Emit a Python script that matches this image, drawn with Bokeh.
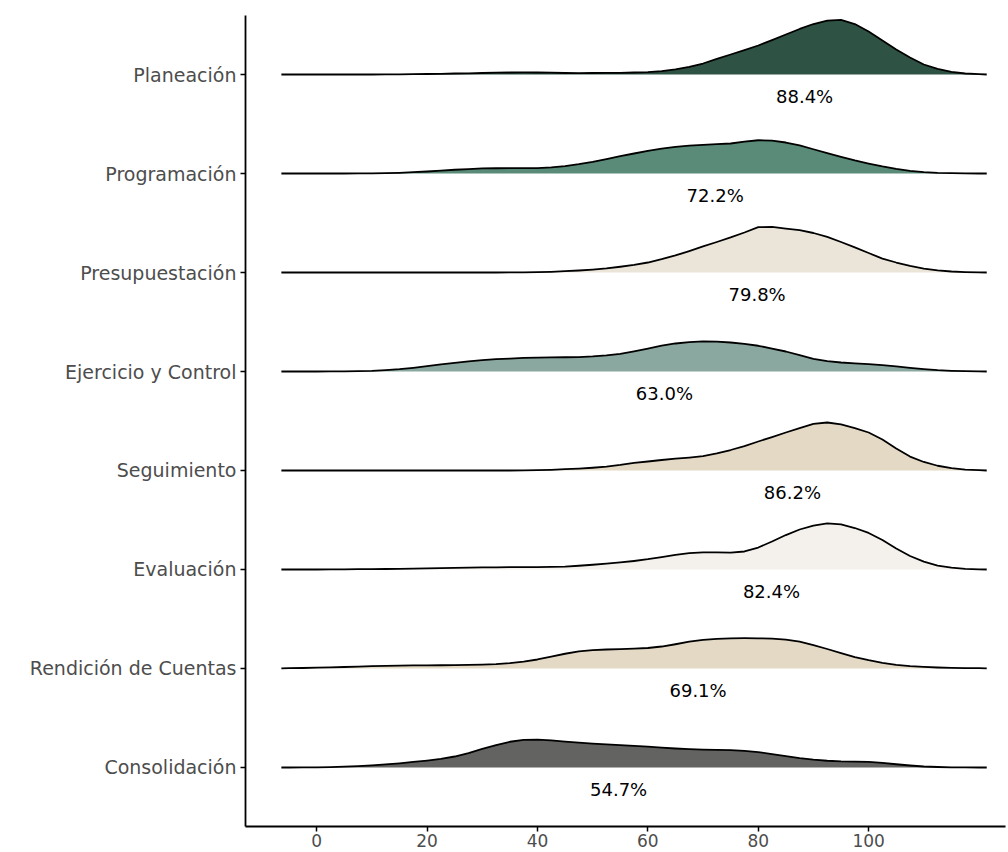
from bokeh.plotting import figure
from bokeh.models import ColumnDataSource, FixedTicker, Range1d
from bokeh.core.properties import value
from bokeh.embed import file_html
from bokeh.resources import INLINE

# ---- data (top to bottom) ----
categories = ["Planeación", "Programación", "Presupuestación", "Ejercicio y Control",
              "Seguimiento", "Evaluación", "Rendición de Cuentas", "Consolidación"]
percent = [88.4, 72.2, 79.8, 63.0, 86.2, 82.4, 69.1, 54.7]
colors = ["#2e5244", "#5a8b78", "#ebe4d9", "#8aa7a0", "#e3d9c5", "#f4f1ec", "#e3d9c5", "#636361"]

# density curves (height in units of row spacing)
x_grid = [-6.4, -5, -2.5, 0, 2.5, 5, 7.5, 10, 12.5, 15, 17.5, 20, 22.5, 25, 27.5, 30, 32.5,
          35, 37.5, 40, 42.5, 45, 47.5, 50, 52.5, 55, 57.5, 60, 62.5, 65, 67.5, 70, 72.5,
          75, 77.5, 80, 82.5, 85, 87.5, 90, 92.5, 95, 97.5, 100, 102.5, 105, 107.5, 110,
          112.5, 115, 117.5, 120, 121.4]
d_planeacion = [0, 0, 0, 0, 0, 0, 0, 0, 0.001, 0.002, 0.003, 0.005, 0.007, 0.010, 0.012,
                0.015, 0.018, 0.020, 0.021, 0.020, 0.018, 0.015, 0.014, 0.015, 0.016, 0.017,
                0.020, 0.025, 0.035, 0.051, 0.076, 0.111, 0.157, 0.202, 0.247, 0.293, 0.348,
                0.404, 0.460, 0.510, 0.545, 0.551, 0.510, 0.434, 0.343, 0.253, 0.172, 0.101,
                0.056, 0.027, 0.010, 0.003, 0]
d_programacion = [0, 0, 0, 0, 0, 0, 0.001, 0.002, 0.004, 0.007, 0.013, 0.020, 0.029, 0.038,
                  0.045, 0.051, 0.053, 0.054, 0.054, 0.054, 0.061, 0.074, 0.094, 0.118, 0.146,
                  0.175, 0.202, 0.229, 0.252, 0.270, 0.281, 0.290, 0.296, 0.303, 0.323, 0.336,
                  0.333, 0.313, 0.283, 0.245, 0.207, 0.169, 0.133, 0.101, 0.072, 0.047, 0.027,
                  0.013, 0.006, 0.003, 0.001, 0, 0]
d_presupuestacion = [0, 0, 0, 0, 0, 0, 0, 0, 0, 0, 0, 0, 0, 0, 0, 0, 0,
                     0.001, 0.002, 0.003, 0.007, 0.013, 0.020, 0.030, 0.042, 0.058, 0.077,
                     0.101, 0.134, 0.172, 0.217, 0.263, 0.308, 0.354, 0.404, 0.458, 0.460,
                     0.444, 0.427, 0.399, 0.359, 0.308, 0.253, 0.197, 0.141, 0.101, 0.066,
                     0.040, 0.022, 0.010, 0.004, 0.001, 0]
d_ejercicio = [0, 0, 0, 0, 0.001, 0.002, 0.004, 0.007, 0.014, 0.023, 0.037, 0.054, 0.071,
               0.088, 0.102, 0.114, 0.124, 0.131, 0.137, 0.141, 0.143, 0.144, 0.146, 0.152,
               0.162, 0.179, 0.204, 0.232, 0.261, 0.283, 0.297, 0.305, 0.302, 0.293, 0.279,
               0.260, 0.232, 0.202, 0.165, 0.128, 0.105, 0.091, 0.082, 0.074, 0.064, 0.051,
               0.036, 0.023, 0.013, 0.007, 0.003, 0.001, 0]
d_seguimiento = [0, 0, 0, 0, 0, 0, 0, 0, 0, 0, 0, 0, 0, 0, 0, 0, 0, 0,
                 0.001, 0.003, 0.007, 0.013, 0.019, 0.028, 0.040, 0.056, 0.076, 0.091, 0.106,
                 0.119, 0.131, 0.146, 0.172, 0.207, 0.247, 0.293, 0.338, 0.384, 0.429, 0.470,
                 0.485, 0.465, 0.429, 0.384, 0.313, 0.222, 0.141, 0.086, 0.048, 0.023, 0.009,
                 0.003, 0]
d_evaluacion = [0, 0, 0, 0, 0.001, 0.002, 0.003, 0.004, 0.005, 0.007, 0.009, 0.011, 0.014,
                0.016, 0.019, 0.021, 0.022, 0.023, 0.023, 0.024, 0.026, 0.030, 0.038, 0.048,
                0.059, 0.071, 0.086, 0.104, 0.126, 0.148, 0.165, 0.172, 0.172, 0.170, 0.182,
                0.222, 0.283, 0.348, 0.404, 0.444, 0.465, 0.455, 0.419, 0.369, 0.298, 0.212,
                0.136, 0.079, 0.040, 0.018, 0.007, 0.002, 0]
d_rendicion = [0.002, 0.003, 0.005, 0.008, 0.011, 0.015, 0.019, 0.023, 0.027, 0.030, 0.031,
               0.032, 0.033, 0.034, 0.036, 0.039, 0.044, 0.054, 0.069, 0.091, 0.121, 0.149,
               0.172, 0.185, 0.192, 0.196, 0.200, 0.207, 0.222, 0.245, 0.271, 0.289, 0.299,
               0.304, 0.306, 0.305, 0.301, 0.291, 0.271, 0.237, 0.197, 0.155, 0.116, 0.084,
               0.057, 0.037, 0.024, 0.016, 0.010, 0.007, 0.004, 0.003, 0.002]
d_consolidacion = [0, 0, 0.001, 0.002, 0.004, 0.008, 0.014, 0.022, 0.031, 0.042, 0.056, 0.070,
                   0.087, 0.111, 0.146, 0.187, 0.227, 0.260, 0.278, 0.281, 0.273, 0.261, 0.251,
                   0.241, 0.233, 0.226, 0.218, 0.210, 0.201, 0.192, 0.185, 0.181, 0.178, 0.175,
                   0.168, 0.155, 0.136, 0.115, 0.095, 0.079, 0.068, 0.062, 0.060, 0.057, 0.047,
                   0.033, 0.020, 0.010, 0.005, 0.002, 0.001, 0, 0]
densities = [d_planeacion, d_programacion, d_presupuestacion, d_ejercicio,
             d_seguimiento, d_evaluacion, d_rendicion, d_consolidacion]
x_ticks = [0, 20, 40, 60, 80, 100]

FONT = "DejaVu Sans"
n = len(categories)

p = figure(width=1008, height=852, output_backend="svg", toolbar_location=None,
           x_range=Range1d(-12.9, 124.8), y_range=Range1d(0.404, 8.596),
           min_border_left=245, min_border_right=3, min_border_top=15, min_border_bottom=26)
p.background_fill_color = "white"
p.border_fill_color = "white"
p.outline_line_color = None
p.xgrid.visible = False
p.ygrid.visible = False

for i, (cat, dens, col) in enumerate(zip(categories, densities, colors)):
    base = n - i
    top = [base + d for d in dens]
    p.varea(x=x_grid, y1=[base] * len(x_grid), y2=top, fill_color=col)
    p.line(x=x_grid, y=top, line_color="black", line_width=1.8, line_join="round")

lab_src = ColumnDataSource(dict(
    x=percent,
    y=[n - i - 0.22 for i in range(n)],
    t=[f"{v:.1f}%" for v in percent],
))
p.text(x="x", y="y", text="t", source=lab_src, text_align="center",
       text_baseline="middle", text_font=value(FONT), text_font_size="18px",
       text_color="black")

# axes
p.yaxis.ticker = FixedTicker(ticks=[n - i for i in range(n)])
p.yaxis.major_label_overrides = {n - i: c for i, c in enumerate(categories)}
p.xaxis.ticker = FixedTicker(ticks=x_ticks)
for ax in (p.xaxis, p.yaxis):
    ax.axis_line_color = "black"
    ax.axis_line_width = 1.8
    ax.major_tick_line_color = "black"
    ax.major_tick_line_width = 1.5
    ax.major_tick_in = 0
    ax.major_tick_out = 5
    ax.minor_tick_line_color = None
    ax.major_label_text_font = FONT
    ax.major_label_text_color = "#4d4d4d"
p.yaxis.major_label_text_font_size = "19px"
p.xaxis.major_label_text_font_size = "17px"
p.yaxis.major_label_standoff = 4
p.xaxis.major_label_standoff = 2

open("out.html", "w").write(file_html(p, INLINE))
